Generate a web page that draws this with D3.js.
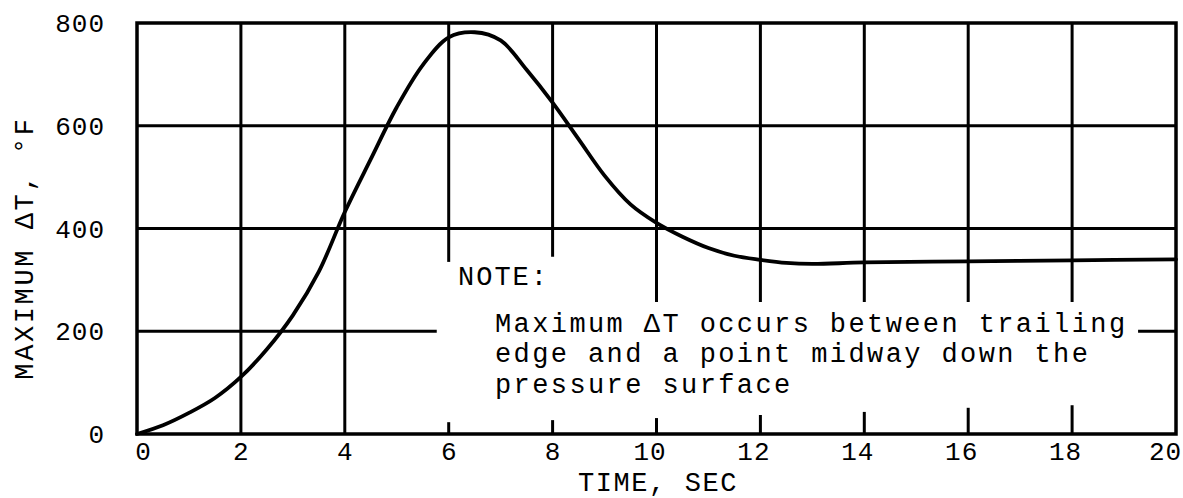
<!DOCTYPE html>
<html>
<head>
<meta charset="utf-8">
<script src="https://cdn.jsdelivr.net/npm/d3@7"></script>
<style>
  html, body { margin: 0; padding: 0; background: #fff; }
  svg { display: block; }
  text { font-family: "Liberation Mono", "DejaVu Sans Mono", monospace; fill: #000; }
</style>
</head>
<body>
<svg id="chart" width="1183" height="498"></svg>
<script>
// Maximum temperature difference versus time
const timeSec = [0, 0.5, 1, 1.5, 2, 2.5, 3, 3.5, 4, 4.5, 5, 5.5, 6, 6.5, 7, 7.5, 8, 8.5, 9, 9.5, 10, 10.5, 11, 11.5, 12, 12.5, 13, 14, 16, 18, 20];
const maxDeltaT = [0, 17, 41, 70, 111, 165, 231, 316, 432, 535, 636, 718, 772, 782, 766, 709, 645, 574, 503, 447, 411, 384, 362, 347, 339, 333, 331, 334, 336, 338, 340];

const xTicks = [0, 2, 4, 6, 8, 10, 12, 14, 16, 18, 20];
const yTicks = [0, 200, 400, 600, 800];

const xTitle = "TIME, SEC";
const yTitle = "MAXIMUM \u0394T, \u00B0F";
const noteHead = "NOTE:";
const noteLines = [
  "Maximum \u0394T occurs between trailing",
  "edge and a point midway down the",
  "pressure surface"
];

const svg = d3.select("#chart");
const plotLeft = 137, plotRight = 1176, plotTop = 23, plotBottom = 434;

const x = d3.scaleLinear().domain([0, 20]).range([plotLeft, plotRight]);
const y = d3.scaleLinear().domain([0, 800]).range([plotBottom, plotTop]);

const ink = "#000";
const gridW = 3;

// The note block is left clear of grid: vertical lines stop above it and
// resume as short stubs just above the time axis.
const noteGapTop = { 6: 335, 8: 345 };          // values where upper parts stop
const noteGapTopDefault = 257;
const noteGapBottom = { 6: 23, 8: 27, 10: 31, 12: 37, 14: 43, 16: 51, 18: 56 };
const hGap200 = [5.77, 19.27];                 // break in the 200 line

const grid = svg.append("g").attr("stroke", ink).attr("stroke-width", gridW).attr("fill", "none");

// vertical grid lines
xTicks.filter(t => t > 0 && t < 20).forEach(t => {
  if (t < 6) {
    grid.append("line").attr("x1", x(t)).attr("x2", x(t)).attr("y1", y(0)).attr("y2", y(800));
  } else {
    const gTop = noteGapTop[t] !== undefined ? noteGapTop[t] : noteGapTopDefault;
    grid.append("line").attr("x1", x(t)).attr("x2", x(t)).attr("y1", y(gTop)).attr("y2", y(800));
    grid.append("line").attr("x1", x(t)).attr("x2", x(t)).attr("y1", y(0)).attr("y2", y(noteGapBottom[t]));
  }
});

// horizontal grid lines
yTicks.filter(v => v > 0 && v < 800).forEach(v => {
  if (v === 200) {
    grid.append("line").attr("x1", x(0)).attr("x2", x(hGap200[0])).attr("y1", y(v)).attr("y2", y(v));
    grid.append("line").attr("x1", x(hGap200[1])).attr("x2", x(20)).attr("y1", y(v)).attr("y2", y(v));
  } else {
    grid.append("line").attr("x1", x(0)).attr("x2", x(20)).attr("y1", y(v)).attr("y2", y(v));
  }
});

// frame
svg.append("rect")
  .attr("x", plotLeft).attr("y", plotTop)
  .attr("width", plotRight - plotLeft).attr("height", plotBottom - plotTop)
  .attr("fill", "none").attr("stroke", ink).attr("stroke-width", 3.5);

// curve
const line = d3.line()
  .x((d, i) => x(timeSec[i]))
  .y(d => y(d))
  .curve(d3.curveCatmullRom.alpha(0.5));

svg.append("path")
  .datum(maxDeltaT)
  .attr("d", line)
  .attr("fill", "none")
  .attr("stroke", ink)
  .attr("stroke-width", 3.8)
  .attr("stroke-linejoin", "round")
  .attr("stroke-linecap", "round");

// tick labels (typed slightly off-centre, two-digit ones sit a little left)
const tickFont = 26, tickSpacing = 1;
const xNudge = d => d === 0 ? 6 : d === 20 ? -11 : d >= 10 ? -7 : 0;
svg.append("g").selectAll("text").data(xTicks).join("text")
  .attr("x", d => x(d) + xNudge(d) + tickSpacing / 2)
  .attr("y", 460)
  .attr("text-anchor", "middle")
  .attr("font-size", tickFont)
  .attr("letter-spacing", tickSpacing)
  .text(d => d);

svg.append("g").selectAll("text").data(yTicks).join("text")
  .attr("x", 104 + tickSpacing)
  .attr("y", d => y(d))
  .attr("dy", "0.35em")
  .attr("text-anchor", "end")
  .attr("font-size", tickFont)
  .attr("letter-spacing", tickSpacing)
  .text(d => d);

// axis titles
svg.append("text")
  .attr("x", 658).attr("y", 491)
  .attr("text-anchor", "middle")
  .attr("font-size", 27)
  .attr("letter-spacing", 1.6)
  .text(xTitle);

svg.append("text")
  .attr("transform", "translate(33,248) rotate(-90)")
  .attr("text-anchor", "middle")
  .attr("font-size", 27)
  .attr("letter-spacing", 2.6)
  .text(yTitle);

// note
svg.append("text")
  .attr("x", 458).attr("y", 285)
  .attr("font-size", 27)
  .attr("letter-spacing", 2)
  .text(noteHead);

const noteBaselines = [332, 362, 393];
svg.append("g").selectAll("text").data(noteLines).join("text")
  .attr("x", 495)
  .attr("y", (d, i) => noteBaselines[i])
  .attr("font-size", 27)
  .attr("letter-spacing", 2.4)
  .text(d => d);
</script>
</body>
</html>
